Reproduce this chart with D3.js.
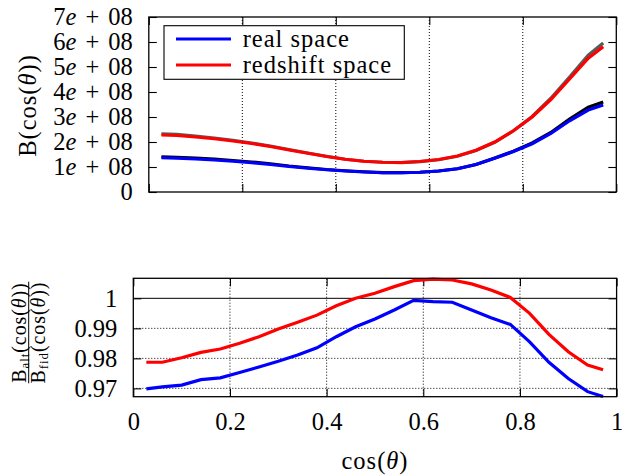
<!DOCTYPE html>
<html><head><meta charset="utf-8">
<script src="https://cdn.jsdelivr.net/npm/d3@7"></script>
<style>
html,body{margin:0;padding:0;background:#fff;}
svg{display:block;}
text{font-family:"Liberation Serif","Times New Roman",serif;fill:#000;}
</style></head>
<body>
<script>
// ---- data ----
const cosTheta = [0.027, 0.06, 0.10, 0.14, 0.18, 0.22, 0.26, 0.30, 0.34, 0.38, 0.42, 0.46, 0.50,
                  0.54, 0.58, 0.62, 0.66, 0.70, 0.74, 0.78, 0.82, 0.86, 0.90, 0.94, 0.972];
// top panel: bispectrum (alt = coloured, fid = black/grey underneath)
const realAlt = [1.37e8,1.35e8,1.32e8,1.28e8,1.23e8,1.17e8,1.10e8,1.02e8,0.95e8,0.89e8,0.84e8,0.80e8,0.77e8,
                 0.77e8,0.79e8,0.84e8,0.93e8,1.10e8,1.35e8,1.62e8,1.93e8,2.34e8,2.85e8,3.28e8,3.48e8];
const realFid = [1.41e8,1.39e8,1.36e8,1.32e8,1.26e8,1.20e8,1.13e8,1.04e8,0.97e8,0.90e8,0.85e8,0.81e8,0.775e8,
                 0.773e8,0.79e8,0.84e8,0.93e8,1.10e8,1.36e8,1.63e8,1.96e8,2.38e8,2.92e8,3.39e8,3.60e8];
const redAlt  = [2.28e8,2.26e8,2.20e8,2.13e8,2.04e8,1.94e8,1.82e8,1.68e8,1.55e8,1.42e8,1.31e8,1.23e8,1.19e8,
                 1.18e8,1.22e8,1.30e8,1.44e8,1.67e8,2.00e8,2.45e8,3.00e8,3.70e8,4.52e8,5.35e8,5.81e8];
const redFid  = [2.33e8,2.31e8,2.24e8,2.16e8,2.07e8,1.96e8,1.84e8,1.70e8,1.56e8,1.43e8,1.31e8,1.23e8,1.19e8,
                 1.175e8,1.215e8,1.29e8,1.43e8,1.66e8,1.99e8,2.45e8,3.02e8,3.75e8,4.60e8,5.47e8,5.96e8];
// bottom panel: ratio alt/fid
const ratioReal = [0.9698,0.9705,0.9711,0.9729,0.9735,0.9753,0.9771,0.9790,0.9811,0.9835,0.9872,0.9905,0.9931,
                   0.9961,0.9993,0.9989,0.9987,0.9961,0.9935,0.9913,0.9855,0.9787,0.9733,0.9689,0.9673];
const ratioRed  = [0.9787,0.9787,0.9802,0.9820,0.9831,0.9850,0.9872,0.9898,0.9920,0.9944,0.9975,1.0000,1.0017,
                   1.0039,1.0059,1.0064,1.0061,1.0048,1.0028,1.0003,0.9950,0.9880,0.9822,0.9778,0.9762];
const xTicks = [0, 0.2, 0.4, 0.6, 0.8, 1];
const xGrid = [0.2, 0.4, 0.6, 0.8];
const topYTicks = [0, 1e8, 2e8, 3e8, 4e8, 5e8, 6e8, 7e8];
const botYTicks = [0.97, 0.98, 0.99, 1];
const legendLabels = ["real space", "redshift space"];
const legendColors = ["#0000ff", "#ff0000"];

// ---- layout ----
const W = 622, H = 476;
const svg = d3.select("body").append("svg").attr("width", W).attr("height", H);

const xTop = d3.scaleLinear().domain([0, 1]).range([148.8, 616.3]);
const yTop = d3.scaleLinear().domain([0, 7e8]).range([192, 17]);
const xBot = d3.scaleLinear().domain([0, 1]).range([133.3, 616.6]);
const yBot = d3.scaleLinear().domain([0.96722, 1.00667]).range([396.7, 278.3]);

function panel(x, y, yTicks, yFmt, showX, hGrid) {
  const g = svg.append("g");
  const [x0, x1] = x.range(), [y0, y1] = y.range();
  g.selectAll(".vg").data(xGrid).join("line")
    .attr("x1", d => x(d)).attr("x2", d => x(d)).attr("y1", y0).attr("y2", y1)
    .attr("stroke", "#000").attr("stroke-width", 1).attr("stroke-dasharray", "1,2");
  if (hGrid) {
    g.selectAll(".hg").data(hGrid).join("line")
      .attr("x1", x0).attr("x2", x1).attr("y1", d => y(d)).attr("y2", d => y(d))
      .attr("stroke", "#000").attr("stroke-width", 1)
      .attr("stroke-dasharray", d => d === 1 ? null : "1,2");
  }
  const ax = [
    d3.axisBottom(x).tickValues(xTicks).tickSizeInner(-8).tickSizeOuter(0).tickPadding(16)
      .tickFormat(showX ? d3.format("") : () => ""),
    d3.axisTop(x).tickValues(xTicks).tickSizeInner(-8).tickSizeOuter(0).tickFormat(() => ""),
    d3.axisLeft(y).tickValues(yTicks).tickSizeInner(-8).tickSizeOuter(0).tickPadding(16).tickFormat(yFmt),
    d3.axisRight(y).tickValues(yTicks).tickSizeInner(-8).tickSizeOuter(0).tickFormat(() => "")
  ];
  const tr = [`translate(0,${y0})`, `translate(0,${y1})`, `translate(${x0},0)`, `translate(${x1},0)`];
  const axG = ax.map((a, i) => {
    const s = g.append("g").attr("transform", tr[i]).call(a);
    s.select(".domain").remove();
    s.selectAll("line").attr("stroke", "#000").attr("stroke-width", 1.1);
    s.selectAll("text").attr("font-size", 24.5).attr("fill", "#000");
    return s;
  });
  return {g, axG};
}

// ---- top panel ----
const topPanel = panel(xTop, yTop, topYTicks, d => d === 0 ? "0" : String(d / 1e8), false, null);
topPanel.axG[2].selectAll("text").each(function(d) {
  if (d === 0) return;
  const t = d3.select(this).text("");
  t.append("tspan").text(String(d / 1e8));
  t.append("tspan").attr("font-style", "italic").text("e");
  t.append("tspan").attr("dx", 9).text("+");
  t.append("tspan").attr("dx", 9).text("08");
});

const lineTop = (ys) => d3.line().x((d, i) => xTop(cosTheta[i])).y(d => yTop(d))(ys);
const tl = svg.append("g");
tl.append("path").attr("d", lineTop(realFid)).attr("fill", "none").attr("stroke", "#000").attr("stroke-width", 3.2);
tl.append("path").attr("d", lineTop(redFid)).attr("fill", "none").attr("stroke", "#5a5a5a").attr("stroke-width", 3.2);
tl.append("path").attr("d", lineTop(realAlt)).attr("fill", "none").attr("stroke", "#0000ff").attr("stroke-width", 3.2);
tl.append("path").attr("d", lineTop(redAlt)).attr("fill", "none").attr("stroke", "#ff0000").attr("stroke-width", 3.2);
svg.append("rect").attr("x", 148.8).attr("y", 17).attr("width", 616.3 - 148.8).attr("height", 192 - 17)
  .attr("fill", "none").attr("stroke", "#000").attr("stroke-width", 1.3);

// legend
const lg = svg.append("g");
lg.append("rect").attr("x", 164).attr("y", 25.7).attr("width", 240.3).attr("height", 53.6)
  .attr("fill", "#fff").attr("stroke", "#000").attr("stroke-width", 1.1);
legendLabels.forEach((lab, i) => {
  const yy = 39 + i * 26;
  lg.append("line").attr("x1", 176).attr("x2", 231).attr("y1", yy).attr("y2", yy)
    .attr("stroke", legendColors[i]).attr("stroke-width", 3.2);
  lg.append("text").attr("x", 242.7).attr("y", yy + 7.5).attr("font-size", 24.5)
    .attr("letter-spacing", 1).text(lab);
});

// top y label
const yl = svg.append("text").attr("transform", "translate(36,105.5) rotate(-90)")
  .attr("text-anchor", "middle").attr("font-size", 24.5).attr("letter-spacing", 1);
yl.append("tspan").text("B(cos(");
yl.append("tspan").attr("font-style", "italic").text("θ");
yl.append("tspan").text("))");

// ---- bottom panel ----
const botPanel = panel(xBot, yBot, botYTicks, d => d === 1 ? "1" : d3.format(".2f")(d), true, botYTicks);
const lineBot = (ys) => d3.line().x((d, i) => xBot(cosTheta[i])).y(d => yBot(d))(ys);
const bl = svg.append("g");
bl.append("path").attr("d", lineBot(ratioReal)).attr("fill", "none").attr("stroke", "#0000ff").attr("stroke-width", 3.2);
bl.append("path").attr("d", lineBot(ratioRed)).attr("fill", "none").attr("stroke", "#ff0000").attr("stroke-width", 3.2);
svg.append("rect").attr("x", 133.3).attr("y", 278.3).attr("width", 616.6 - 133.3).attr("height", 396.7 - 278.3)
  .attr("fill", "none").attr("stroke", "#000").attr("stroke-width", 1.3);

// x label
const xl = svg.append("text").attr("x", 375).attr("y", 469).attr("text-anchor", "middle")
  .attr("font-size", 24.5).attr("letter-spacing", 1);
xl.append("tspan").text("cos(");
xl.append("tspan").attr("font-style", "italic").text("θ");
xl.append("tspan").text(")");

// bottom y label (fraction)
const fr = svg.append("g").attr("transform", "translate(28.7,332.5) rotate(-90)");
fr.append("line").attr("x1", -50.8).attr("x2", 50.8).attr("y1", 0).attr("y2", 0)
  .attr("stroke", "#000").attr("stroke-width", 1);
[["alt", -3], ["fid", 16]].forEach(([sub, yy]) => {
  const t = fr.append("text").attr("x", 0).attr("y", yy).attr("text-anchor", "middle")
    .attr("font-size", 20).attr("letter-spacing", 0.9);
  t.append("tspan").text("B");
  t.append("tspan").attr("font-size", 13).attr("dy", 3).text(sub);
  t.append("tspan").attr("dy", -3).text("(cos(");
  t.append("tspan").attr("font-style", "italic").text("θ");
  t.append("tspan").text("))");
});
</script>
</body></html>
